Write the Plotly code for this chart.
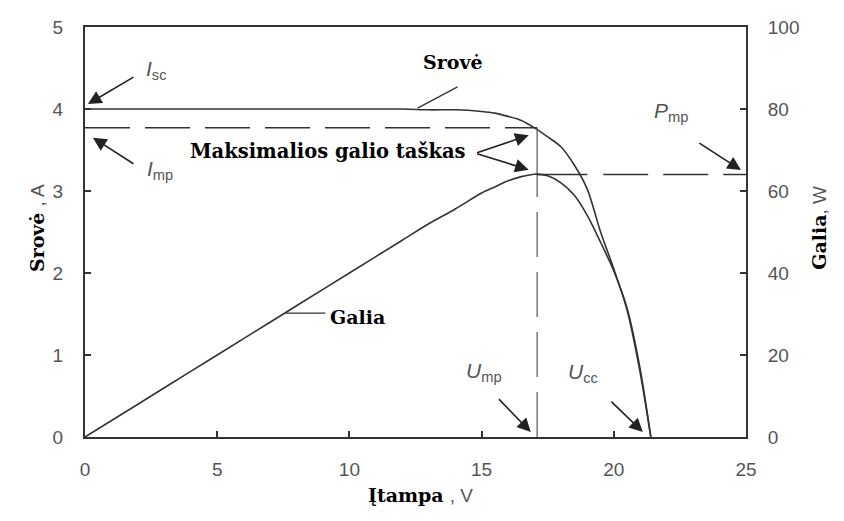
import plotly.graph_objects as go

# Solar module characteristic: current (A) and power (W) versus voltage (V)
voltage = [0, 2, 4, 6, 8, 10, 12, 13, 14, 15, 15.5, 16, 16.5, 17, 17.5,
           18, 18.5, 19, 19.5, 20, 20.5, 21, 21.4]
current = [4.00, 4.00, 4.00, 4.00, 4.00, 4.00, 4.00, 3.99, 3.99, 3.97, 3.95,
           3.91, 3.86, 3.77, 3.66, 3.54, 3.32, 3.02, 2.50, 2.05, 1.55, 0.78, 0.0]
power = [0, 8, 16, 24, 32, 40, 48, 52, 55.6, 59.5, 61, 62.5, 63.5, 64.1, 63.7,
         62, 59, 54, 47.5, 40.5, 31.5, 16.5, 0]

# Maximum power point
u_mp = 17.1
i_mp = 3.77
p_mp = 64.0

x_ticks = [0, 5, 10, 15, 20, 25]
y_ticks = [0, 1, 2, 3, 4, 5]
y2_ticks = [0, 20, 40, 60, 80, 100]

LINE = "#333333"
TICK_FONT = dict(family="Liberation Sans, Arial, sans-serif", size=19, color="#555555")
SERIF = "DejaVu Serif, serif"

fig = go.Figure()

fig.add_trace(go.Scatter(x=voltage, y=current, mode="lines",
                         line=dict(color=LINE, width=1.6, shape="spline", smoothing=0.8),
                         name="Srovė", showlegend=False, hoverinfo="skip"))
fig.add_trace(go.Scatter(x=voltage, y=power, mode="lines", yaxis="y2",
                         line=dict(color=LINE, width=1.6, shape="spline", smoothing=0.8),
                         name="Galia", showlegend=False, hoverinfo="skip"))

# Reference lines through the maximum power point
fig.add_trace(go.Scatter(x=[0, u_mp], y=[i_mp, i_mp], mode="lines",
                         line=dict(color=LINE, width=1.5, dash="45px,15px"),
                         showlegend=False, hoverinfo="skip"))
fig.add_trace(go.Scatter(x=[u_mp, u_mp], y=[0, p_mp / 20], mode="lines",
                         line=dict(color="#555555", width=1.2, dash="45px,15px"),
                         showlegend=False, hoverinfo="skip"))
fig.add_trace(go.Scatter(x=[u_mp, u_mp], y=[p_mp / 20, i_mp], mode="lines",
                         line=dict(color="#555555", width=1.2),
                         showlegend=False, hoverinfo="skip"))
fig.add_trace(go.Scatter(x=[u_mp, 19.0], y=[p_mp, p_mp], mode="lines", yaxis="y2",
                         line=dict(color=LINE, width=1.5),
                         showlegend=False, hoverinfo="skip"))
fig.add_trace(go.Scatter(x=[19.6, 25], y=[p_mp, p_mp], mode="lines", yaxis="y2",
                         line=dict(color=LINE, width=1.5, dash="45px,15px"),
                         showlegend=False, hoverinfo="skip"))

# Leader lines from curve names to the curves
fig.add_trace(go.Scatter(x=[12.58, 14.09], y=[4.01, 4.27], mode="lines",
                         line=dict(color=LINE, width=1.3),
                         showlegend=False, hoverinfo="skip"))
fig.add_trace(go.Scatter(x=[7.58, 9.09], y=[1.51, 1.51], mode="lines",
                         line=dict(color=LINE, width=1.3),
                         showlegend=False, hoverinfo="skip"))

axis_common = dict(showgrid=False, zeroline=False, showline=True,
                   linecolor=LINE, linewidth=2, ticks="inside", ticklen=6,
                   tickwidth=1.5, tickcolor=LINE, tickfont=TICK_FONT)

fig.update_layout(
    width=844, height=521,
    margin=dict(l=85, r=98, t=27, b=84),
    paper_bgcolor="white", plot_bgcolor="white",
    xaxis=dict(range=[0, 25], tickvals=x_ticks, mirror=True,
               ticklabelstandoff=14, **axis_common),
    yaxis=dict(range=[0, 5], tickvals=y_ticks, ticklabelstandoff=16,
               **axis_common),
    yaxis2=dict(range=[0, 100], tickvals=y2_ticks, overlaying="y", side="right",
                ticklabelstandoff=16, **axis_common),
)

ann = []

def label(x, y, text, size=21, yref="y", **kw):
    ann.append(dict(x=x, y=y, xref="x", yref=yref, text=text, showarrow=False,
                    font=dict(family="Liberation Sans, Arial, sans-serif",
                              size=size, color="#555555"), **kw))

def bold(x, y, text, size=19, **kw):
    ann.append(dict(x=x, y=y, xref="x", yref="y", text="<b>" + text + "</b>",
                    showarrow=False,
                    font=dict(family=SERIF, size=size, color="black"), **kw))

def arrow(x, y, ax, ay, yref="y"):
    ann.append(dict(x=x, y=y, ax=ax, ay=ay, xref="x", yref=yref,
                    axref="x", ayref=yref, text="", showarrow=True,
                    arrowhead=2, arrowsize=1.7, arrowwidth=1.6,
                    arrowcolor="#222222"))

# Point labels
label(2.69, 4.48, "<i>I</i><sub>sc</sub>")
label(2.84, 3.26, "<i>I</i><sub>mp</sub>")
label(22.16, 79.3, "<i>P</i><sub>mp</sub>", yref="y2")
label(15.08, 0.79, "<i>U</i><sub>mp</sub>")
label(18.83, 0.78, "<i>U</i><sub>cc</sub>")

arrow(0.11, 4.06, 1.89, 4.40)
arrow(0.30, 3.65, 1.89, 3.32)
arrow(24.81, 65.1, 23.18, 71.9, yref="y2")
arrow(16.86, 0.06, 15.60, 0.48)
arrow(21.10, 0.06, 19.85, 0.45)

# Curve names and the maximum power point note
bold(13.9, 4.57, "Srovė")
bold(9.2, 3.48, "Maksimalios galio taškas", size=19.5)
arrow(16.78, 3.68, 14.77, 3.46)
arrow(16.78, 3.26, 14.77, 3.46)
bold(9.2, 1.46, "Galia", xanchor="left")

# Axis titles: bold serif quantity, regular sans unit
unit_font = "<span style='font-family:Liberation Sans, Arial;font-weight:normal;color:#555555'>"
ann.append(dict(x=0.508, y=-0.172, xref="paper", yref="paper", showarrow=False,
                text="<b>Įtampa</b> " + unit_font + ", V</span>",
                font=dict(family=SERIF, size=19, color="black")))
ann.append(dict(x=-0.092, y=0.51, xref="paper", yref="paper", showarrow=False,
                textangle=-90,
                text="<b>Srovė</b> " + unit_font + ", A</span>",
                font=dict(family=SERIF, size=19, color="black")))
ann.append(dict(x=1.13, y=0.51, xref="paper", yref="paper", showarrow=False,
                textangle=-90,
                text="<b>Galia</b>" + unit_font + ", W</span>",
                font=dict(family=SERIF, size=19, color="black")))

fig.update_layout(annotations=ann)

fig.write_html("out.html")
